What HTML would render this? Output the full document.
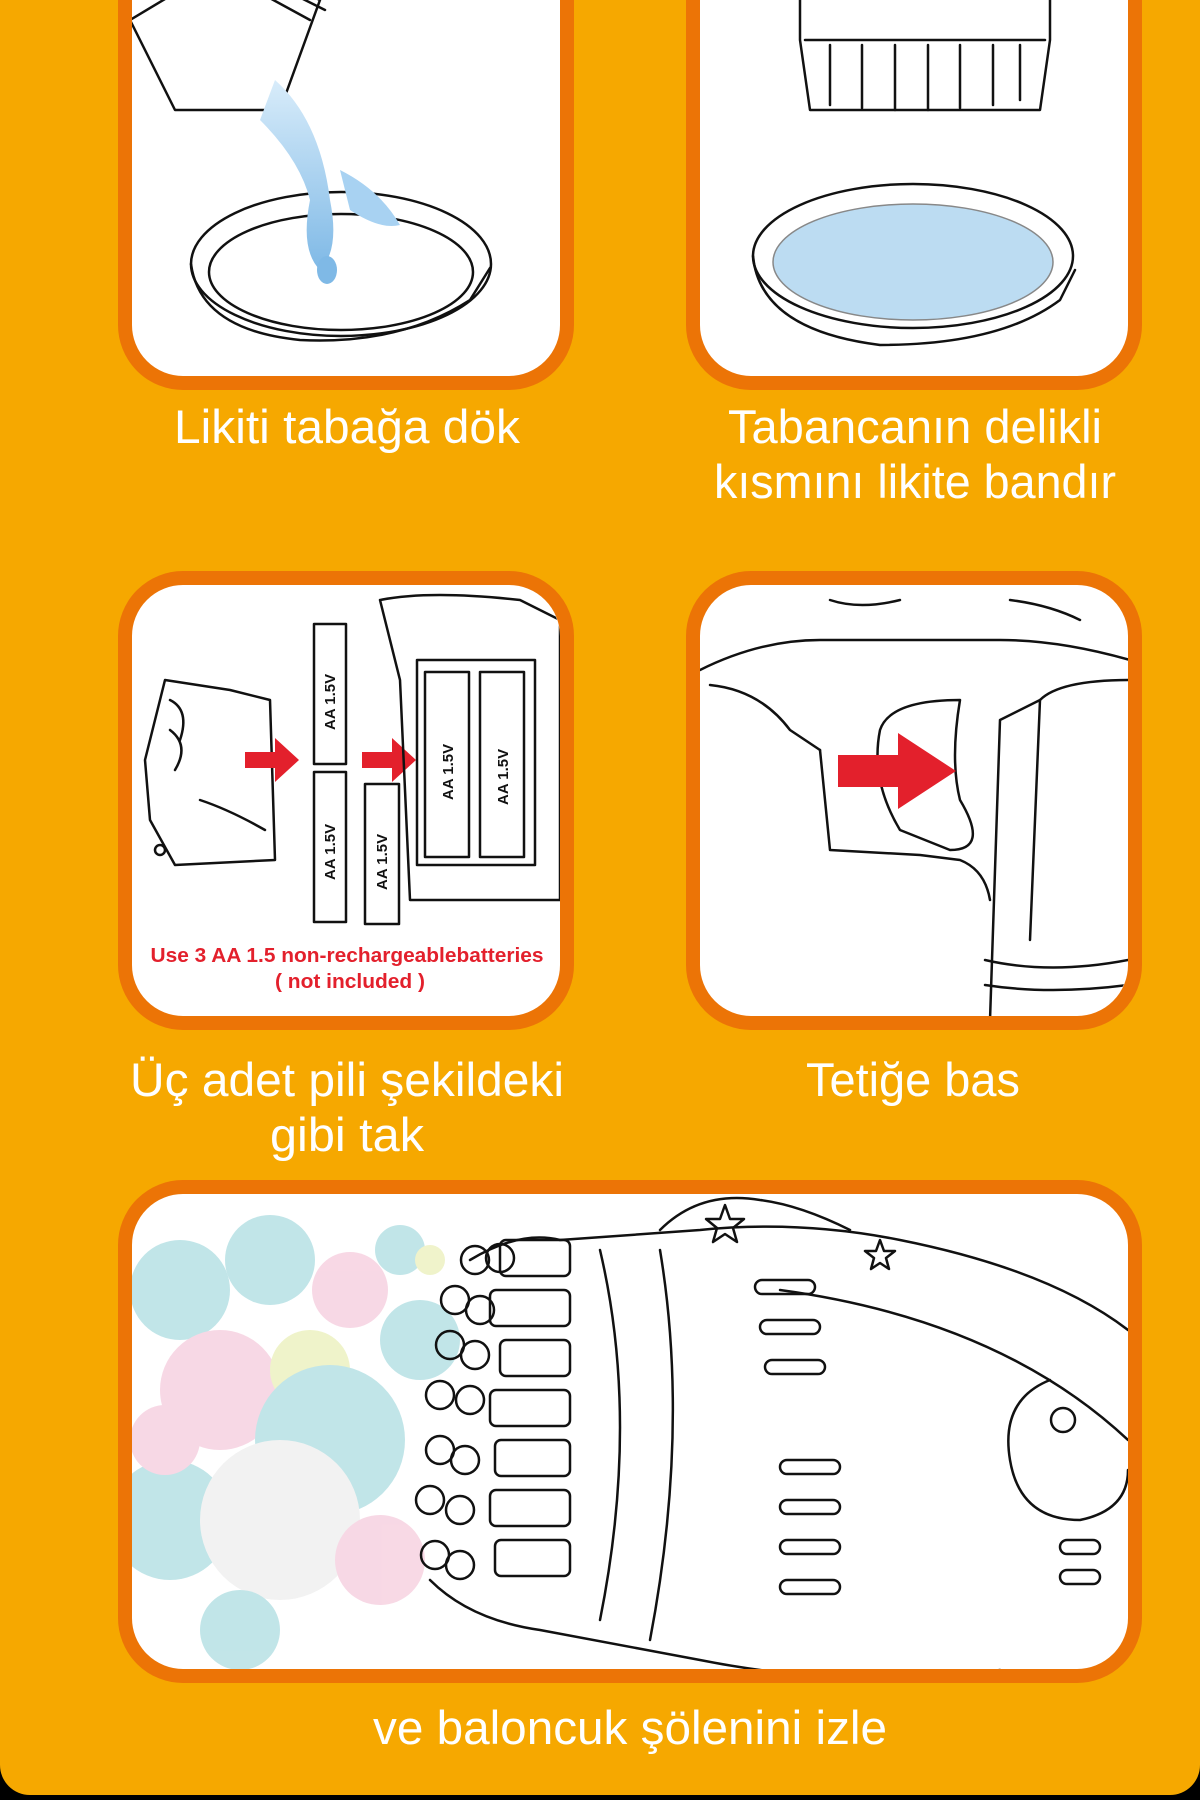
<!DOCTYPE html>
<html><head><meta charset="utf-8">
<style>
html,body{margin:0;padding:0;background:#000;}
body{width:1200px;height:1800px;overflow:hidden;}
svg{display:block}
.cap{font-family:"Liberation Sans","DejaVu Sans",sans-serif;fill:#fff;font-size:47px;text-anchor:middle;}
.red{font-family:"Liberation Sans",sans-serif;fill:#e3202c;font-weight:bold;font-size:20px;text-anchor:middle;}
.ln{fill:none;stroke:#111;stroke-width:2.5;stroke-linejoin:round;stroke-linecap:round}
.bt{font-family:"Liberation Sans",sans-serif;font-size:15px;fill:#111;font-weight:bold}
</style></head><body>
<svg width="1200" height="1800" viewBox="0 0 1200 1800" xmlns="http://www.w3.org/2000/svg">
<defs>
<clipPath id="c1"><rect x="132" y="-60" width="428" height="436" rx="52"/></clipPath>
<clipPath id="c2"><rect x="700" y="-60" width="428" height="436" rx="52"/></clipPath>
<clipPath id="c3"><rect x="132" y="585" width="428" height="431" rx="52"/></clipPath>
<clipPath id="c4"><rect x="700" y="585" width="428" height="431" rx="52"/></clipPath>
<clipPath id="c5"><rect x="132" y="1194" width="996" height="475" rx="52"/></clipPath>
<linearGradient id="liq" x1="0" y1="0" x2="0" y2="1"><stop offset="0" stop-color="#d8ecfa"/><stop offset="1" stop-color="#7fb9e6"/></linearGradient>
</defs>
<rect x="0" y="0" width="1200" height="1800" fill="#000"/>
<rect x="0" y="-40" width="1200" height="1835" rx="30" fill="#f6a800"/>

<rect x="125" y="-60" width="442" height="443" rx="58" fill="#fff" stroke="#ec7406" stroke-width="14"/>
<rect x="693" y="-60" width="442" height="443" rx="58" fill="#fff" stroke="#ec7406" stroke-width="14"/>
<rect x="125" y="578" width="442" height="445" rx="58" fill="#fff" stroke="#ec7406" stroke-width="14"/>
<rect x="693" y="578" width="442" height="445" rx="58" fill="#fff" stroke="#ec7406" stroke-width="14"/>
<rect x="125" y="1187" width="1010" height="489" rx="58" fill="#fff" stroke="#ec7406" stroke-width="14"/>

<g clip-path="url(#c1)">
<path class="ln" d="M130 20 L230 -40 L320 0 L280 110 L175 110 Z" fill="#eef6fc"/>
<path class="ln" d="M200 -40 L310 20"/><path class="ln" d="M215 -45 L325 10"/>
<ellipse cx="341" cy="264" rx="150" ry="72" class="ln"/>
<path class="ln" d="M191 264 Q200 330 300 340 Q400 345 470 300 L490 268"/>
<ellipse cx="341" cy="272" rx="132" ry="58" class="ln" stroke-width="1.5"/>
<path d="M275 80 Q320 120 330 200 Q340 250 320 270 Q300 250 310 200 Q300 160 260 120 Z" fill="url(#liq)"/>
<path d="M340 170 Q380 190 400 225 Q380 230 350 210 Z" fill="#a8d2f2"/>
<ellipse cx="327" cy="270" rx="10" ry="14" fill="#7fb9e6"/>
</g>

<g clip-path="url(#c2)">
<path class="ln" d="M800 -40 L1050 -40 L1050 40 L1040 110 L810 110 L800 40 Z"/>
<path class="ln" d="M805 40 L1045 40"/>
<g class="ln" stroke-width="2">
<path d="M830 45 V105"/><path d="M862 45 V108"/><path d="M895 45 V110"/><path d="M928 45 V110"/><path d="M960 45 V108"/><path d="M993 45 V105"/><path d="M1020 45 V100"/>
</g>
<ellipse cx="913" cy="256" rx="160" ry="72" class="ln"/>
<ellipse cx="913" cy="262" rx="140" ry="58" fill="#bcdcf2" stroke="#888" stroke-width="1.5"/>
<path class="ln" d="M753 256 Q760 330 880 345 Q1000 345 1060 300 L1075 270"/>
</g>

<g clip-path="url(#c3)">
<path class="ln" d="M165 680 L230 690 L270 700 L275 860 L175 865 L150 820 L145 760 Z"/>
<path class="ln" d="M170 700 Q190 710 180 740"/><path class="ln" d="M170 730 Q190 745 175 770"/>
<path class="ln" d="M200 800 Q230 810 265 830"/>
<circle cx="160" cy="850" r="5" class="ln"/>
<path d="M245 752 h30 v-14 l24 22 l-24 22 v-14 h-30z" fill="#e3202c"/>
<path d="M362 752 h30 v-14 l24 22 l-24 22 v-14 h-30z" fill="#e3202c"/>
<rect x="314" y="624" width="32" height="140" class="ln"/>
<rect x="314" y="772" width="32" height="150" class="ln"/>
<rect x="365" y="784" width="34" height="140" class="ln"/>
<text class="bt" transform="translate(335 730) rotate(-90)">AA 1.5V</text>
<text class="bt" transform="translate(335 880) rotate(-90)">AA 1.5V</text>
<text class="bt" transform="translate(387 890) rotate(-90)">AA 1.5V</text>
<path class="ln" d="M380 600 Q430 590 520 600 L560 620 L560 900 L410 900 L400 680 Z"/>
<rect x="417" y="660" width="118" height="205" class="ln"/>
<rect x="425" y="672" width="44" height="185" class="ln"/>
<rect x="480" y="672" width="44" height="185" class="ln"/>
<text class="bt" font-size="18" transform="translate(453 800) rotate(-90)">AA 1.5V</text>
<text class="bt" font-size="18" transform="translate(508 805) rotate(-90)">AA 1.5V</text>
<text x="347" y="962" class="red" textLength="393" lengthAdjust="spacingAndGlyphs">Use 3 AA 1.5 non-rechargeablebatteries</text>
<text x="350" y="988" class="red" textLength="150" lengthAdjust="spacingAndGlyphs">( not included )</text>
</g>

<g clip-path="url(#c4)">
<path class="ln" d="M700 670 Q760 640 820 640 L1000 640 Q1060 640 1130 660"/>
<path class="ln" d="M710 685 Q760 690 790 730 L820 750"/>
<path class="ln" d="M1130 680 Q1060 680 1040 700 L1000 720 L990 1020"/>
<path class="ln" d="M960 700 Q950 760 960 800 Q990 850 950 850 L900 830 Q870 780 880 730 Q890 700 960 700Z"/>
<path class="ln" d="M820 750 L830 850 L920 855 L960 860 Q985 870 990 900"/>
<path class="ln" d="M1040 700 L1030 940"/>
<path class="ln" d="M985 960 Q1050 975 1128 960"/><path class="ln" d="M985 985 Q1050 995 1128 985"/>
<path class="ln" d="M830 600 Q860 610 900 600"/><path class="ln" d="M1010 600 Q1050 605 1080 620"/>
<path d="M838 755 h60 v-22 l58 38 l-58 38 v-22 h-60z" fill="#e3202c"/>
</g>

<g clip-path="url(#c5)">
<g opacity="0.55">
<circle cx="180" cy="1290" r="50" fill="#8fd0d6"/>
<circle cx="270" cy="1260" r="45" fill="#8fd0d6"/>
<circle cx="350" cy="1290" r="38" fill="#f2b9d0"/>
<circle cx="220" cy="1390" r="60" fill="#f2b9d0"/>
<circle cx="310" cy="1370" r="40" fill="#e3eaa0"/>
<circle cx="330" cy="1440" r="75" fill="#8fd0d6"/>
<circle cx="170" cy="1520" r="60" fill="#8fd0d6"/>
<circle cx="280" cy="1520" r="80" fill="#e8e8e8"/>
<circle cx="380" cy="1560" r="45" fill="#f2b9d0"/>
<circle cx="420" cy="1340" r="40" fill="#8fd0d6"/>
<circle cx="400" cy="1250" r="25" fill="#8fd0d6"/>
<circle cx="165" cy="1440" r="35" fill="#f2b9d0"/>
<circle cx="240" cy="1630" r="40" fill="#8fd0d6"/>
<circle cx="430" cy="1260" r="15" fill="#e3eaa0"/>
</g>
<g class="ln">
<path d="M470 1260 Q520 1230 560 1240 L700 1230 Q800 1220 900 1240 Q1050 1270 1128 1330"/>
<path d="M660 1230 Q700 1190 760 1200 Q800 1205 850 1230"/>
<path d="M430 1580 Q470 1620 540 1630 L700 1660 Q850 1690 1000 1670"/>
<path d="M600 1250 Q640 1420 600 1620"/>
<path d="M660 1250 Q690 1430 650 1640"/>
<path d="M780 1290 Q1000 1320 1128 1440"/>
<path d="M1050 1380 Q1000 1400 1010 1460 Q1020 1520 1080 1520 Q1128 1510 1128 1470"/>
<circle cx="1063" cy="1420" r="12"/>
</g>
<g class="ln" stroke-width="2" fill="#fff">
<rect x="755" y="1280" width="60" height="14" rx="7"/><rect x="760" y="1320" width="60" height="14" rx="7"/><rect x="765" y="1360" width="60" height="14" rx="7"/>
<rect x="780" y="1460" width="60" height="14" rx="7"/><rect x="780" y="1500" width="60" height="14" rx="7"/><rect x="780" y="1540" width="60" height="14" rx="7"/><rect x="780" y="1580" width="60" height="14" rx="7"/>
<rect x="1060" y="1540" width="40" height="14" rx="7"/><rect x="1060" y="1570" width="40" height="14" rx="7"/>
</g>
<g class="ln" fill="#fff">
<rect x="500" y="1240" width="70" height="36" rx="6"/><rect x="490" y="1290" width="80" height="36" rx="6"/>
<rect x="500" y="1340" width="70" height="36" rx="6"/><rect x="490" y="1390" width="80" height="36" rx="6"/>
<rect x="495" y="1440" width="75" height="36" rx="6"/><rect x="490" y="1490" width="80" height="36" rx="6"/>
<rect x="495" y="1540" width="75" height="36" rx="6"/>
<circle cx="475" cy="1260" r="14"/><circle cx="500" cy="1258" r="14"/>
<circle cx="455" cy="1300" r="14"/><circle cx="480" cy="1310" r="14"/>
<circle cx="450" cy="1345" r="14"/><circle cx="475" cy="1355" r="14"/>
<circle cx="440" cy="1395" r="14"/><circle cx="470" cy="1400" r="14"/>
<circle cx="440" cy="1450" r="14"/><circle cx="465" cy="1460" r="14"/>
<circle cx="430" cy="1500" r="14"/><circle cx="460" cy="1510" r="14"/>
<circle cx="435" cy="1555" r="14"/><circle cx="460" cy="1565" r="14"/>
</g>
<g class="ln" fill="#fff" stroke-width="2">
<path d="M725 1205 l5 14 h14 l-11 9 l4 14 l-12 -8 l-12 8 l4 -14 l-11 -9 h14z"/>
<path d="M880 1240 l4 11 h11 l-9 7 l3 11 l-9 -6 l-9 6 l3 -11 l-9 -7 h11z"/>
</g>
</g>

<text x="347" y="443" class="cap" textLength="346" lengthAdjust="spacingAndGlyphs">Likiti tabağa dök</text>
<text x="915" y="443" class="cap" textLength="374" lengthAdjust="spacingAndGlyphs">Tabancanın delikli</text>
<text x="915" y="498" class="cap" textLength="402" lengthAdjust="spacingAndGlyphs">kısmını likite bandır</text>
<text x="347" y="1096" class="cap" textLength="434" lengthAdjust="spacingAndGlyphs">Üç adet pili şekildeki</text>
<text x="347" y="1151" class="cap" textLength="154" lengthAdjust="spacingAndGlyphs">gibi tak</text>
<text x="913" y="1096" class="cap" textLength="214" lengthAdjust="spacingAndGlyphs">Tetiğe bas</text>
<text x="630" y="1744" class="cap" textLength="514" lengthAdjust="spacingAndGlyphs">ve baloncuk şölenini izle</text>
</svg>
</body></html>
